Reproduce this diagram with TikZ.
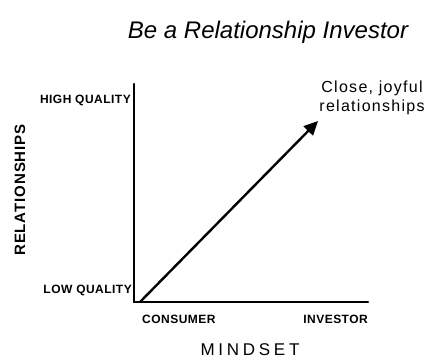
\documentclass[tikz,border=0pt]{standalone}
\usepackage{fontspec}
\setmainfont{Liberation Sans}
\usetikzlibrary{arrows.meta}
\begin{document}
\begin{tikzpicture}[x=1pt,y=-1pt,
  axis/.style={line width=2.4pt,line cap=round},
  lab/.style={font=\fontsize{12}{14}\selectfont\bfseries\addfontfeatures{LetterSpace=4}, inner sep=0pt},
  ttl/.style={font=\fontsize{24}{28}\selectfont\itshape, inner sep=0pt},
  note/.style={font=\fontsize{16}{19}\selectfont\addfontfeatures{LetterSpace=8}, inner sep=0pt, align=center}]
\useasboundingbox (0,0) rectangle (430,362);
\node[ttl] (title) at (268,32) {Be a Relationship Investor};
\coordinate (o) at (140,302);
\coordinate (ytop) at (134,84);
\coordinate (xend) at (368,302);
\draw[axis] (ytop) -- (134,302) -- (o) -- (xend);
\coordinate (tip) at (318,121);
\draw[line width=2.4pt,-{Triangle[length=14pt,width=13pt]}] (o) -- (tip);
\node[lab, anchor=east] (hq) at (131,100) {HIGH QUALITY};
\node[lab, anchor=east] (lq) at (132,290) {LOW QUALITY};
\node[lab, anchor=west] (cons) at (142,319) {CONSUMER};
\node[lab, anchor=east] (inv) at (368,319) {INVESTOR};
\node[font=\fontsize{17}{19}\selectfont\addfontfeatures{LetterSpace=22}, inner sep=0pt] (mind) at (250,350) {MINDSET};
\node[font=\fontsize{15}{17}\selectfont\bfseries\addfontfeatures{LetterSpace=6}, inner sep=0pt, rotate=90] (rel) at (20,190) {RELATIONSHIPS};
\node[note] (close) at (372,98) {Close, joyful\\relationships};
\end{tikzpicture}
\end{document}
